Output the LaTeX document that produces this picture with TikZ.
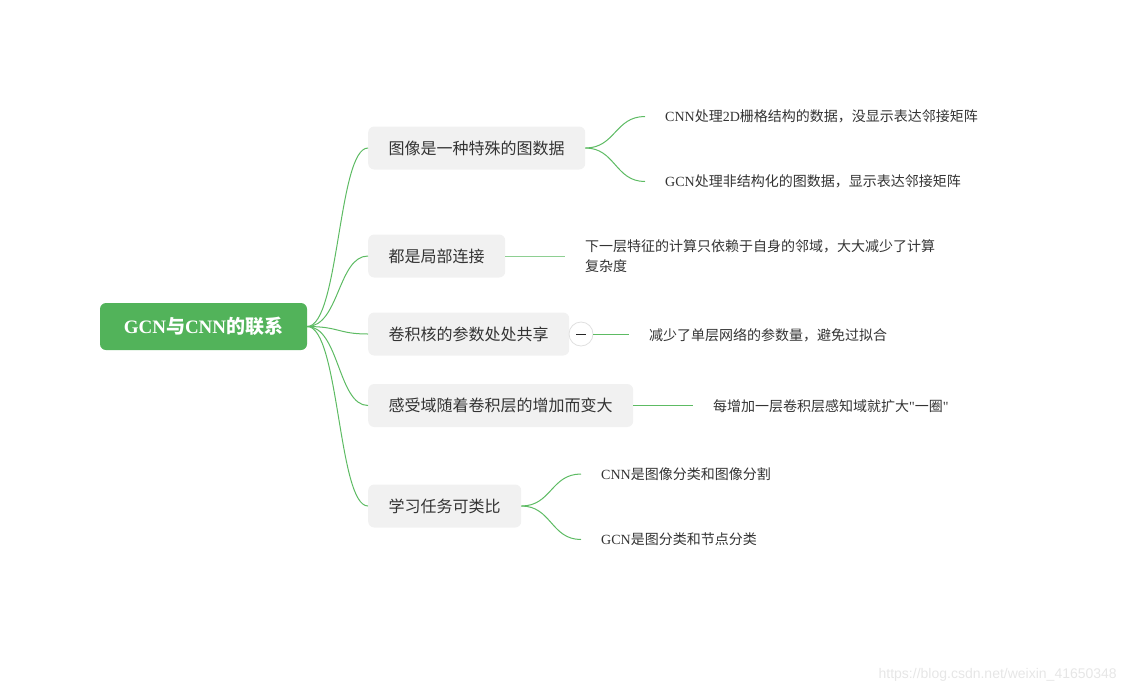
\documentclass[tikz,border=0pt]{standalone}
\usepackage{fontspec}
\usetikzlibrary{calc}
\setmainfont{Noto Sans CJK SC}
\newfontfamily\lat{Liberation Serif}
\newfontfamily\latq{Liberation Serif}[Ligatures=TeXOff]
\definecolor{rootgreen}{HTML}{52B35A}
\definecolor{linegreen}{HTML}{5DBB63}
\definecolor{branchfill}{HTML}{F1F1F1}
\definecolor{txt}{HTML}{333333}
\definecolor{wm}{HTML}{E6E6E6}
\begin{document}
\begin{tikzpicture}[x=1pt,y=-1pt,
  rootbox/.style={fill=rootgreen,rounded corners=6pt,minimum width=207pt,minimum height=47pt,text=white,font=\fontsize{19}{22}\selectfont\bfseries,inner sep=0pt},
  branchbox/.style={fill=branchfill,rounded corners=6pt,minimum height=43pt,inner xsep=20.5pt,inner ysep=0pt,text=txt,font=\fontsize{16}{20}\selectfont,anchor=west},
  leaftext/.style={anchor=west,inner xsep=20pt,inner ysep=2pt,text=txt,font=\fontsize{14}{20}\selectfont,align=left},
  link/.style={draw=linegreen,line width=1pt},
  collapse/.style={circle,draw=black!12,fill=white,minimum size=24pt,inner sep=0pt,line width=0.8pt}
]
\useasboundingbox (0,0) rectangle (1126,694);

\node[rootbox] (root) at (203.5,326.5) {{\lat GCN}与{\lat CNN}的联系};

\node[branchbox] (b1) at (368,148) {图像是一种特殊的图数据};
\node[branchbox] (b2) at (368,256) {都是局部连接};
\node[branchbox] (b3) at (368,334) {卷积核的参数处处共享};
\node[branchbox] (b4) at (368,405.5) {感受域随着卷积层的增加而变大};
\node[branchbox] (b5) at (368,506) {学习任务可类比};

\foreach \b in {b1,b2,b3,b4,b5}{
  \draw[link] (root.east) .. controls ++(32,0) and ($(\b.west)+(-30,0)$) .. (\b.west);
}

\node[leaftext] (l1a) at (645,116.5) {{\lat CNN}处理{\lat 2D}栅格结构的数据，没显示表达邻接矩阵};
\node[leaftext] (l1b) at (645,181.5) {{\lat GCN}处理非结构化的图数据，显示表达邻接矩阵};
\node[leaftext,anchor=west] (l2) at (565,256) {下一层特征的计算只依赖于自身的邻域，大大减少了计算\\复杂度};
\node[collapse] (c3) at (581,334) {};
\draw[line width=1pt,black!85] ($(c3.center)+(-5,0)$) -- ($(c3.center)+(5,0)$);
\node[leaftext] (l3) at (629,335) {减少了单层网络的参数量，避免过拟合};
\node[leaftext] (l4) at (693,406) {每增加一层卷积层感知域就扩大{\latq"}一圈{\latq"}};
\node[leaftext] (l5a) at (581,474) {{\lat CNN}是图像分类和图像分割};
\node[leaftext] (l5b) at (581,539.5) {{\lat GCN}是图分类和节点分类};

\draw[link] (b1.east) .. controls ++(30,0) and ($(l1a.west)+(-30,0)$) .. (l1a.west);
\draw[link] (b1.east) .. controls ++(30,0) and ($(l1b.west)+(-30,0)$) .. (l1b.west);
\draw[link,draw=linegreen!70] (b2.east) -- (b2.east -| l2.west);
\draw[link] (c3.east) -- (c3.east -| l3.west);
\draw[link] (b4.east) -- (b4.east -| l4.west);
\draw[link] (b5.east) .. controls ++(30,0) and ($(l5a.west)+(-30,0)$) .. (l5a.west);
\draw[link] (b5.east) .. controls ++(30,0) and ($(l5b.west)+(-30,0)$) .. (l5b.west);

\node[anchor=east,text=wm,font=\fontspec{Liberation Sans}\fontsize{14}{16}\selectfont,inner sep=0pt] (wmk) at (1117,675) {https://blog.csdn.net/weixin\_41650348};
\end{tikzpicture}
\end{document}
